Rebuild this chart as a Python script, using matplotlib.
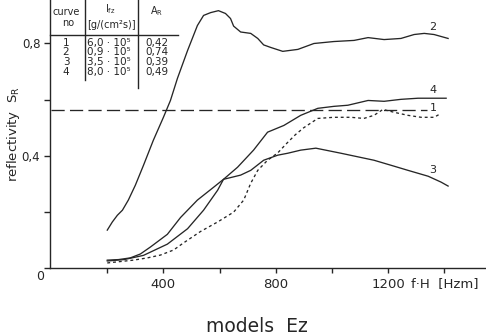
import matplotlib
matplotlib.use("Agg")
import matplotlib.pyplot as plt
from matplotlib.lines import Line2D

# ---- data ----
c2_f = [200, 218, 236, 254, 275, 300, 329, 364, 400, 425, 450, 486, 521, 543, 568, 596, 621,
        639, 650, 675, 711, 736, 757, 782, 825, 879, 936, 1007, 1079, 1129, 1186, 1246, 1293,
        1329, 1364, 1414]
c2_s = [0.135, 0.164, 0.188, 0.206, 0.242, 0.295, 0.366, 0.455, 0.537, 0.597, 0.676, 0.775,
        0.864, 0.90, 0.91, 0.917, 0.907, 0.889, 0.862, 0.841, 0.836, 0.818, 0.795, 0.786, 0.772,
        0.779, 0.80, 0.807, 0.811, 0.821, 0.814, 0.818, 0.832, 0.836, 0.832, 0.818]

c3_f = [200, 240, 282, 318, 354, 414, 461, 521, 579, 614, 675, 711, 757, 807, 843, 889, 943,
        1032, 1150, 1221, 1271, 1343, 1389, 1414]
c3_s = [0.028, 0.030, 0.036, 0.05, 0.075, 0.12, 0.18, 0.242, 0.288, 0.316, 0.331, 0.348, 0.384,
        0.402, 0.409, 0.42, 0.427, 0.409, 0.384, 0.363, 0.348, 0.327, 0.306, 0.292]

c4_f = [200, 260, 329, 414, 486, 543, 593, 614, 664, 721, 771, 829, 889, 950, 1007, 1057,
        1129, 1186, 1246, 1307, 1407]
c4_s = [0.025, 0.03, 0.045, 0.085, 0.14, 0.206, 0.277, 0.316, 0.359, 0.42, 0.484, 0.508,
        0.544, 0.569, 0.576, 0.58, 0.597, 0.594, 0.601, 0.605, 0.605]

c1_f = [200, 293, 343, 389, 436, 471, 532, 593, 650, 686, 711, 736, 771, 807, 840, 870, 900,
        950, 1007, 1068, 1114, 1150, 1182, 1221, 1271, 1318, 1364, 1389]
c1_s = [0.018, 0.028, 0.036, 0.046, 0.064, 0.089, 0.13, 0.164, 0.199, 0.242, 0.302, 0.348,
        0.384, 0.41, 0.445, 0.475, 0.50, 0.533, 0.537, 0.537, 0.533, 0.544, 0.565, 0.555, 0.544,
        0.537, 0.537, 0.551]

ref_level = 0.563
ref_f = [0, 1340]

x_ticks = [200, 400, 600, 800, 1000, 1200, 1400]
x_labels = ["", "400", "", "800", "", "1200", ""]
y_ticks = [0, 0.2, 0.4, 0.6, 0.8]
y_labels = ["", "", "0,4", "", "0,8"]

table_curve = ["1", "2", "3", "4"]
table_ifz = ["6,0 · 10⁵", "0,9 · 10⁵", "3,5 · 10⁵", "8,0 · 10⁵"]
table_ar = ["0,42", "0,74", "0,39", "0,49"]

# ---- figure ----
W, H = 486, 336
fig = plt.figure(figsize=(W / 100, H / 100), dpi=100)
ax = fig.add_axes([50 / W, 68 / H, 1 - 50 / W, 1 - 68 / H])
ax.set_xlim(-4, 1549)
ax.set_ylim(0, 0.955)

ink = "#262626"
lw = 0.95
ax.plot(c2_f, c2_s, color=ink, lw=lw)
ax.plot(c3_f, c3_s, color=ink, lw=lw)
ax.plot(c4_f, c4_s, color=ink, lw=lw)
ax.plot(c1_f, c1_s, color=ink, lw=lw, dashes=(2.2, 2.2))
ax.plot(ref_f, [ref_level, ref_level], color=ink, lw=lw, dashes=(10, 4))

for spine in ["top", "right"]:
    ax.spines[spine].set_visible(False)
for spine in ["left", "bottom"]:
    ax.spines[spine].set_color(ink)
    ax.spines[spine].set_linewidth(1.0)

ax.set_xticks(x_ticks)
ax.set_xticklabels(x_labels, fontsize=9.5, color=ink)
ax.set_yticks(y_ticks)
ax.set_yticklabels(y_labels, fontsize=8.5, color=ink)
ax.tick_params(axis="x", direction="out", length=3.5, width=1.0, color=ink, pad=4)
ax.tick_params(axis="y", direction="out", length=4.5, width=1.0, color=ink, pad=2.5)

def fx(px):
    return px / W

def fy(py):
    return 1 - py / H

fig.text(fx(40), fy(276), "0", fontsize=9, color=ink, ha="center", va="center")
fig.text(fx(14), fy(134), "reflectivity  S$_\\mathregular{R}$", fontsize=9.5, color=ink,
         rotation=90, ha="center", va="center")
fig.text(fx(411), fy(284), "f·H  [Hzm]", fontsize=9.5, color=ink, va="center", ha="left")
fig.text(fx(257), fy(326), "models  Ez", fontsize=13.5, color=ink, va="center", ha="center")

# curve labels
for lbl, (px, py) in {"2": (433, 27), "4": (433, 90), "1": (433, 108), "3": (433, 170)}.items():
    fig.text(fx(px), fy(py), lbl, fontsize=8, color=ink, ha="center", va="center")

# table
fig.add_artist(Line2D([fx(50), fx(178)], [fy(35), fy(35)], color=ink, lw=1.0))
fig.add_artist(Line2D([fx(85), fx(85)], [fy(0), fy(80)], color=ink, lw=1.0))
fig.add_artist(Line2D([fx(138), fx(138)], [fy(0), fy(88)], color=ink, lw=1.0))
fs = 7
fig.text(fx(66), fy(12), "curve", fontsize=fs, color=ink, ha="center", va="center")
fig.text(fx(68), fy(23), "no", fontsize=fs, color=ink, ha="center", va="center")
fig.text(fx(110), fy(9), "I$_\\mathregular{fz}$", fontsize=fs, color=ink, ha="center", va="center")
fig.text(fx(111), fy(25), "[g/(cm²s)]", fontsize=fs, color=ink, ha="center", va="center")
fig.text(fx(157), fy(11), "A$_\\mathregular{R}$", fontsize=fs, color=ink, ha="center", va="center")
rows_y = [43, 52, 62, 72]
for i, ry in enumerate(rows_y):
    fig.text(fx(66), fy(ry), table_curve[i], fontsize=fs + 0.5, color=ink, ha="center", va="center")
    fig.text(fx(87), fy(ry), table_ifz[i], fontsize=fs + 0.5, color=ink, ha="left", va="center")
    fig.text(fx(145), fy(ry), table_ar[i], fontsize=fs + 0.5, color=ink, ha="left", va="center")

fig.savefig("out.png", dpi=100)
